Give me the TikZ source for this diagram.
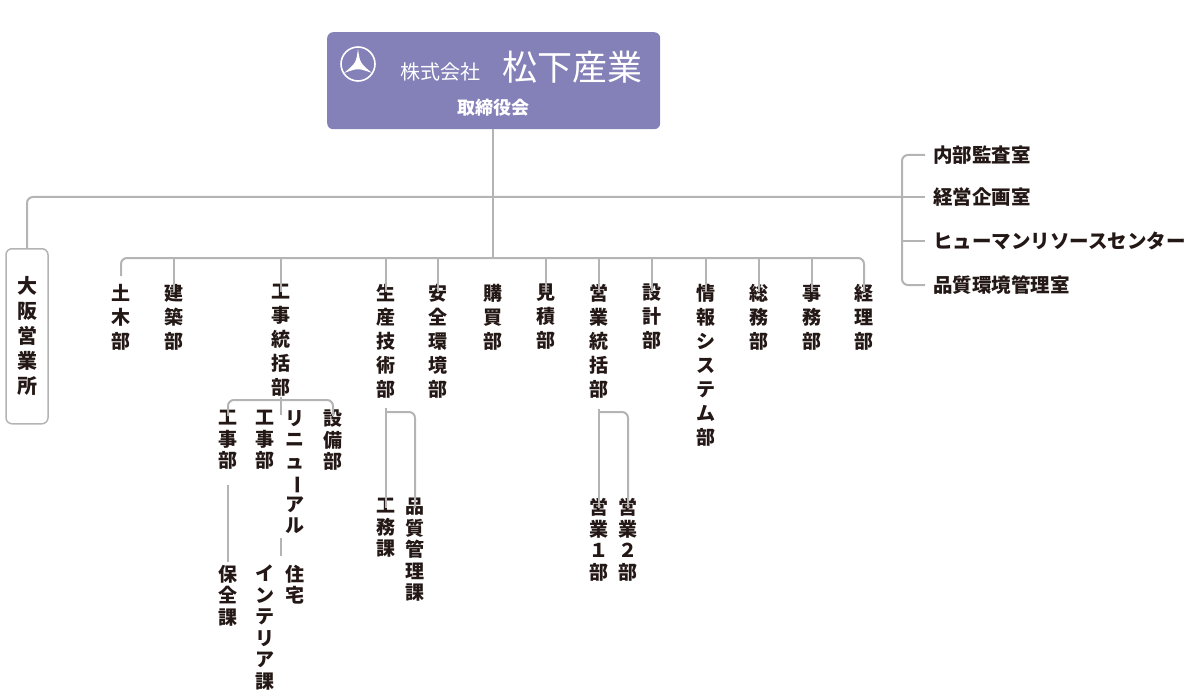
\documentclass[tikz,border=0pt]{standalone}
\usepackage{fontspec}
\newfontfamily\jp{Noto Sans CJK JP}
\definecolor{board}{RGB}{132,128,184}
\definecolor{wire}{RGB}{180,180,180}
\definecolor{ink}{RGB}{35,24,21}
\newcommand\vbar{\rotatebox[origin=c]{-90}{ー}}
\tikzset{
  col/.style={anchor=north,align=center,inner sep=0pt,text=ink,
    font=\jp\bfseries\fontsize{19}{24}\selectfont},
  sub/.style={col,font=\jp\bfseries\fontsize{19}{21.5}\selectfont},
  side/.style={anchor=west,inner sep=0pt,text=ink,font=\jp\bfseries\fontsize{19.5}{20}\selectfont},
  wire/.style={draw=wire,line width=2pt,rounded corners=6pt}
}
\begin{document}
\begin{tikzpicture}[x=1pt,y=-1pt]
  \useasboundingbox (0,0) rectangle (1204,695);
  % board
  \node[fill=board,rounded corners=6pt,minimum width=333pt,minimum height=97pt,anchor=north west,inner sep=0pt] (board) at (327,32) {};
  \draw[white,line width=1.6pt] (358,64) circle (17);
  \fill[white] (358,49) .. controls (356,63) .. (344,73) .. controls (358,68) .. (372,73) .. controls (360,63) .. cycle;
  \node[text=white,font=\jp\fontsize{20}{20}\selectfont,anchor=base] (kk) at (440,80) {株式会社};
  \node[text=white,font=\jp\fontsize{35}{36}\selectfont,anchor=base] (name) at (572,81) {松下産業};
  \node[text=white,font=\jp\bfseries\fontsize{18}{18}\selectfont] (bod) at (493,108) {取締役会};
  % trunk
  \coordinate (j1) at (493,197);
  \coordinate (j2) at (493,258);
  \draw[wire] (board.south -| j1) -- (j2);
  % osaka
  \node[draw=wire,line width=1.5pt,rounded corners=6pt,minimum width=42pt,minimum height=175pt,anchor=north,inner sep=0pt,
    font=\jp\bfseries\fontsize{20}{25}\selectfont,text=ink,align=center] (osaka) at (27,248) {大\\阪\\営\\業\\所};
  \draw[wire] (osaka.north) -- (27,197) -- (902,197);
  % staff rooms
  \node[side] (s1) at (933,155) {内部監査室};
  \node[side] (s2) at (933,197) {経営企画室};
  \node[side] (s3) at (933,241) {ヒューマンリソースセンター};
  \node[side] (s4) at (933,285) {品質環境管理室};
  \draw[wire] (s1.west) ++(-8,0) -- (902,155) -- (902,285) -- ([xshift=-8pt]s4.west);
  \draw[wire] (902,197) -- ([xshift=-8pt]s2.west);
  \draw[wire] (902,241) -- ([xshift=-8pt]s3.west);
  % departments
  \foreach \x/\n/\t in {121/d1/土\\木\\部, 174/d2/建\\築\\部, 281/d3/工\\事\\統\\括\\部,
      386/d4/生\\産\\技\\術\\部, 438/d5/安\\全\\環\\境\\部, 493/d6/購\\買\\部,
      546/d7/見\\積\\部, 599/d8/営\\業\\統\\括\\部, 652/d9/設\\計\\部,
      706/d10/情\\報\\シ\\ス\\テ\\ム\\部, 759/d11/総\\務\\部, 812/d12/事\\務\\部, 864/d13/経\\理\\部}
    \node[col] (\n) at (\x,284) {\t};
  \draw[wire] (d1.north) ++(0,-8) |- (j2) -| ([yshift=-8pt]d13.north);
  \foreach \n in {d2,d3,d4,d5,d7,d8,d9,d10,d11,d12}
    \draw[wire,rounded corners=0pt] (\n.north |- j2) -- ([yshift=-8pt]\n.north);
  % construction
  \node[sub] (c1) at (228,410) {工\\事\\部};
  \node[sub] (c2) at (265,410) {工\\事\\部};
  \node[sub] (c3) at (295,410) {リ\\ニ\\ュ\\\vbar\\ア\\ル};
  \node[sub] (c4) at (333,410) {設\\備\\部};
  \draw[wire] ([yshift=-6pt]c1.north) |- (281,400) -| ([yshift=-6pt]c4.north);
  \draw[wire,rounded corners=0pt] (d3.south) -- ++(0,18);
  \node[sub] (c5) at (228,565) {保\\全\\課};
  \node[sub] (c6) at (295,565) {住\\宅};
  \node[sub] (c7) at (265,565) {イ\\ン\\テ\\リ\\ア\\課};
  \draw[wire,rounded corners=0pt] (228,485) -- (228,562);
  \draw[wire,rounded corners=0pt] (281,538) -- (281,556);
  % production
  \node[sub] (p1) at (386,498) {工\\務\\課};
  \node[sub] (p2) at (415,498) {品\\質\\管\\理\\課};
  \draw[wire,rounded corners=0pt] (d4.south) ++(0,10) -- ([yshift=-10pt]p1.north);
  \draw[wire] (386,412) -| ([yshift=-10pt]p2.north);
  % sales
  \node[sub] (e1) at (599,498) {営\\業\\１\\部};
  \node[sub] (e2) at (628,498) {営\\業\\２\\部};
  \draw[wire,rounded corners=0pt] (d8.south) ++(0,10) -- ([yshift=-10pt]e1.north);
  \draw[wire] (599,412) -| ([yshift=-10pt]e2.north);
\end{tikzpicture}
\end{document}
